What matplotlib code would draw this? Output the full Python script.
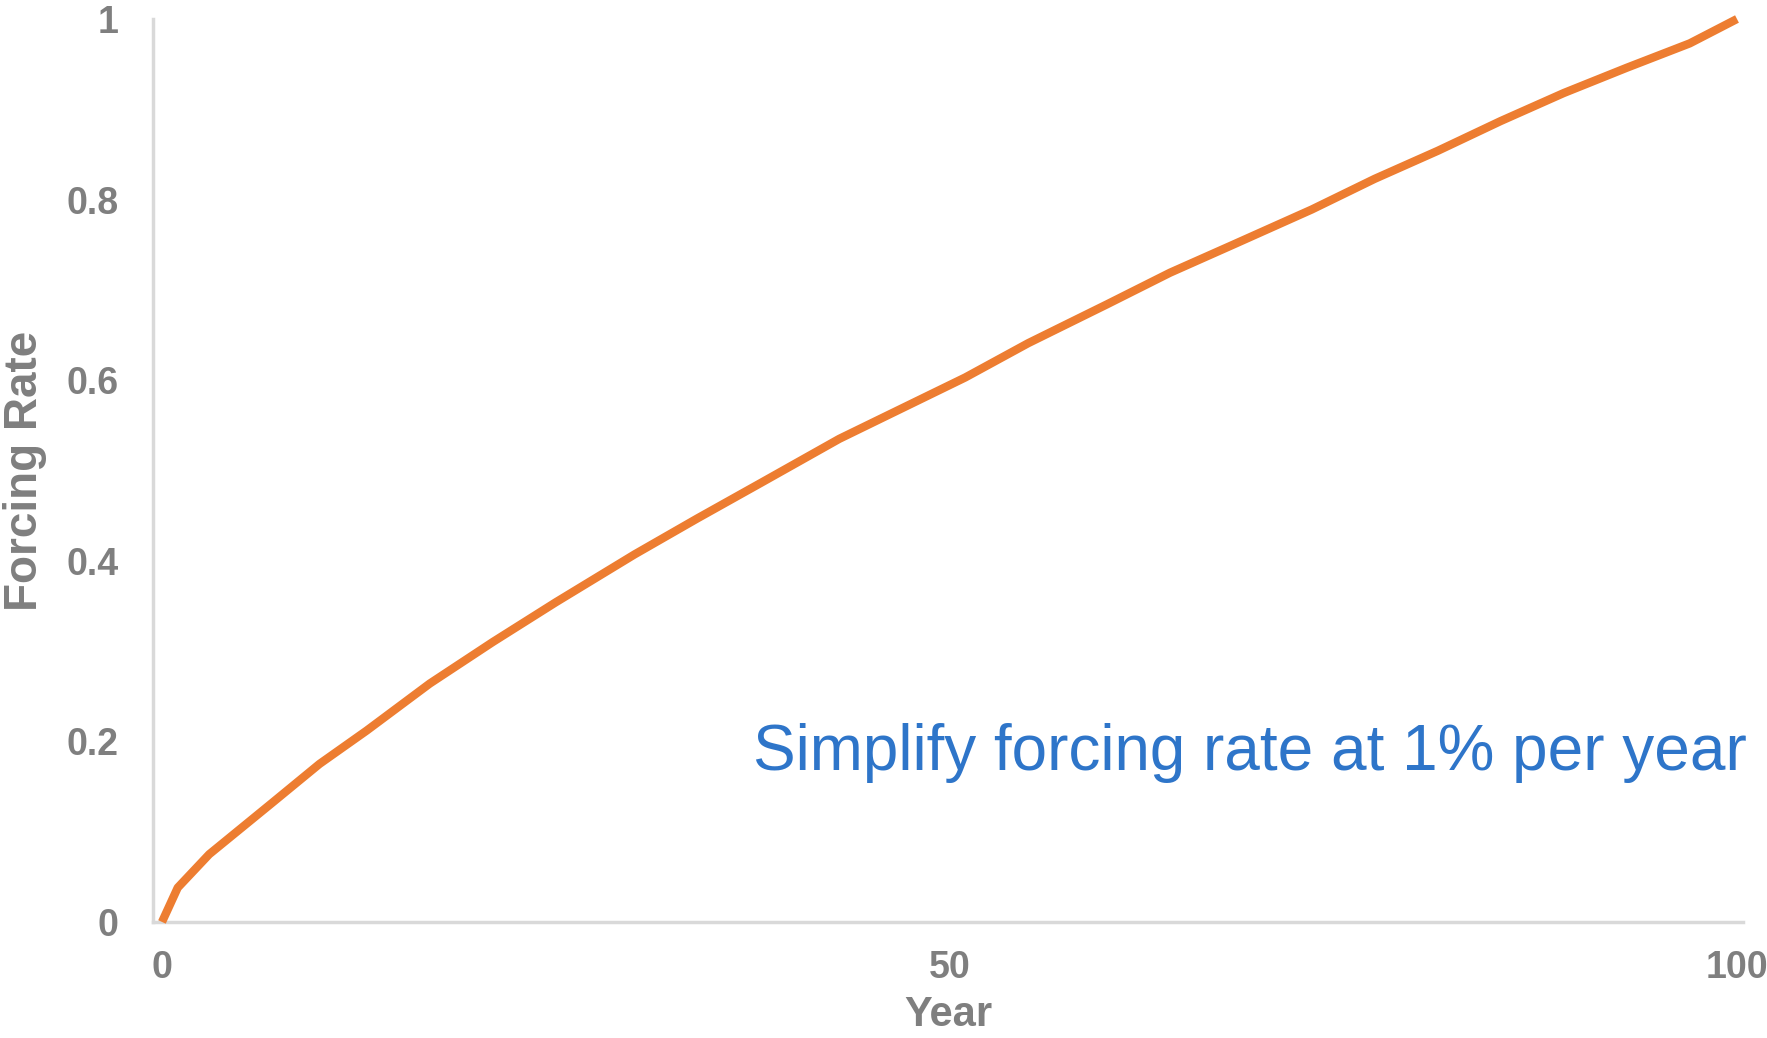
import matplotlib
matplotlib.use("Agg")
import matplotlib.pyplot as plt

# forcing curve, years vs normalised forcing rate
years = [0, 1, 3, 7, 10, 13, 17, 21, 25, 30, 34, 38, 43, 47, 51, 55, 60,
         64, 68, 73, 77, 81, 85, 89, 93, 97, 100]
forcing = [0.0, 0.038, 0.075, 0.132, 0.175, 0.212, 0.264, 0.310, 0.354,
           0.407, 0.447, 0.486, 0.535, 0.569, 0.603, 0.641, 0.684, 0.719,
           0.750, 0.789, 0.823, 0.854, 0.887, 0.918, 0.946, 0.973, 1.0]

x_ticks = [0, 50, 100]
y_ticks = [0, 0.2, 0.4, 0.6, 0.8, 1]
y_ticklabels = ["0", "0.2", "0.4", "0.6", "0.8", "1"]

note = "Simplify forcing rate at 1% per year"

plt.rcParams['font.family'] = ['Liberation Sans', 'DejaVu Sans']
grey = '#7f7f7f'

fig = plt.figure(figsize=(17.67, 10.38), dpi=100)
ax = fig.add_axes([0.0866, 0.1118, 0.8998, 0.8699])

ax.plot(years, forcing, color='#ED7D31', lw=6, solid_capstyle='butt',
        solid_joinstyle='round', zorder=3, clip_on=False)

ax.set_xlim(-0.57, 100.38)
ax.set_ylim(0, 1)

for side in ['top', 'right']:
    ax.spines[side].set_visible(False)
for side in ['left', 'bottom']:
    ax.spines[side].set_color('#d9d9d9')
    ax.spines[side].set_linewidth(2.5)

ax.set_xticks(x_ticks)
ax.set_xticklabels([str(v) for v in x_ticks])
ax.set_yticks(y_ticks)
ax.set_yticklabels(y_ticklabels)
ax.tick_params(axis='x', length=0, pad=20, labelsize=27, labelcolor=grey)
ax.tick_params(axis='y', length=0, pad=25, labelsize=27, labelcolor=grey)
for lab in ax.get_xticklabels() + ax.get_yticklabels():
    lab.set_fontweight('bold')

ax.set_xlabel('Year', fontsize=30, fontweight='bold', color=grey, labelpad=7)
ax.set_ylabel('Forcing Rate', fontsize=33, fontweight='bold', color=grey, labelpad=14)

ax.text(100.6, 0.168, note, fontsize=46, color='#2E75C9',
        ha='right', va='baseline')

fig.savefig('out.png', dpi=100)
